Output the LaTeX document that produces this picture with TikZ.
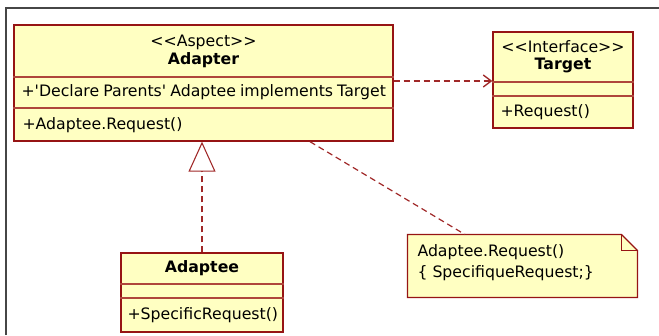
\documentclass[tikz,border=0pt]{standalone}
\usepackage{fontspec}
\newfontfamily\umlfont{DejaVu Sans}
\usetikzlibrary{arrows.meta,calc}

\definecolor{umlfill}{RGB}{255,255,194}
\definecolor{umlred}{RGB}{150,20,20}
\definecolor{umlsep}{RGB}{175,70,60}
\definecolor{linkred}{RGB}{160,40,40}

\tikzset{every picture/.style={line width=0.75pt},
  classbox/.style={draw=umlred, fill=umlfill, line width=1pt, inner sep=0pt},
  sepline/.style={draw=umlsep, line width=0.8pt},
  umltext/.style={font=\umlfont\fontsize{11.8}{14}\selectfont, inner sep=0pt},
  umlname/.style={umltext, font=\umlfont\bfseries\fontsize{11.8}{14}\selectfont},
  member/.style={umltext, anchor=west},
  depline/.style={draw=linkred, line width=1pt, dash pattern=on 4.5pt off 3pt},
  notelink/.style={draw=linkred, line width=0.9pt, dash pattern=on 4.5pt off 3pt}
}

\begin{document}
\begin{tikzpicture}[x=0.75pt,y=0.75pt,yscale=-1,xscale=1]
\useasboundingbox (0,0) rectangle (659,335);

%Frame 
\draw [color={rgb, 255:red, 70; green, 70; blue, 70 }, line width=1.1pt]  (6,335) -- (6,8) -- (659,8) ;

%Shape: Class Adapter 
\node [classbox, minimum width=284.25pt, minimum height=87pt] (adapter) at (203.5,83) {};
\draw [sepline] (adapter.west |- 0,77) -- (adapter.east |- 0,77) ;
\draw [sepline] (adapter.west |- 0,108) -- (adapter.east |- 0,108) ;
%Shape: Class Target 
\node [classbox, minimum width=105pt, minimum height=72pt] (target) at (563,80) {};
\draw [sepline] (target.west |- 0,82) -- (target.east |- 0,82) ;
\draw [sepline] (target.west |- 0,96) -- (target.east |- 0,96) ;
%Shape: Class Adaptee 
\node [classbox, minimum width=121.5pt, minimum height=59.25pt] (adaptee) at (202,292.5) {};
\draw [sepline] (adaptee.west |- 0,284) -- (adaptee.east |- 0,284) ;
\draw [sepline] (adaptee.west |- 0,298) -- (adaptee.east |- 0,298) ;
%Shape: Note 
\node [minimum width=171.75pt, minimum height=46.5pt, inner sep=0pt] (note) at (522.5,266) {};
\draw [draw=umlred, fill=umlfill, line width=1pt] (note.north west) -- ($(note.north east)+(-16,0)$) -- ($(note.north east)+(0,16)$) -- (note.south east) -- (note.south west) -- cycle ;
\draw [draw=umlred, line width=0.8pt] ($(note.north east)+(-16,0)$) -- ($(note.north east)+(-16,16)$) -- ($(note.north east)+(0,16)$) ;

%Straight Lines: dependency 
\draw [depline, -{Straight Barb[length=6pt,width=9pt,line width=1pt]}] (adapter.east |- 0,81) -- (target.west |- 0,81) ;
%Straight Lines: realization 
\draw [depline, line width=1.4pt, -{Triangle[open,fill=white,length=22.5pt,width=20.25pt,line width=0.8pt]}] (adaptee.north) -- (adaptee.north |- adapter.south) ;
%Straight Lines: note link 
\draw [notelink] (adapter.south -| 310,0) -- (note.north -| 465,0) ;

% Text Node
\draw (203.5,42) node [umltext] (adapterst) {<\kern0pt<Aspect>\kern0pt>};
% Text Node
\draw (203.5,60) node [umlname] (adaptername) {Adapter};
% Text Node
\draw (21,92) node [member] (adapterattr) {\spaceskip=0.26em +'Declare Parents' Adaptee implements Target};
% Text Node
\draw (22,125) node [member] (adapterop) {+Adaptee.Request()};
% Text Node
\draw (563,47) node [umltext] (targetst) {<\kern0pt<Interface>\kern0pt>};
% Text Node
\draw (563,65) node [umlname] (targetname) {Target};
% Text Node
\draw (500,112) node [member] (targetop) {+Request()};
% Text Node
\draw (202,268) node [umlname] (adapteename) {Adaptee};
% Text Node
\draw (127,315) node [member] (adapteeop) {+SpecificRequest()};
% Text Node
\draw (417,252) node [member] (notefirst) {Adaptee.Request()};
% Text Node
\draw (417,273) node [member] (notesecond) {\{ SpecifiqueRequest;\}};

\end{tikzpicture}
\end{document}
